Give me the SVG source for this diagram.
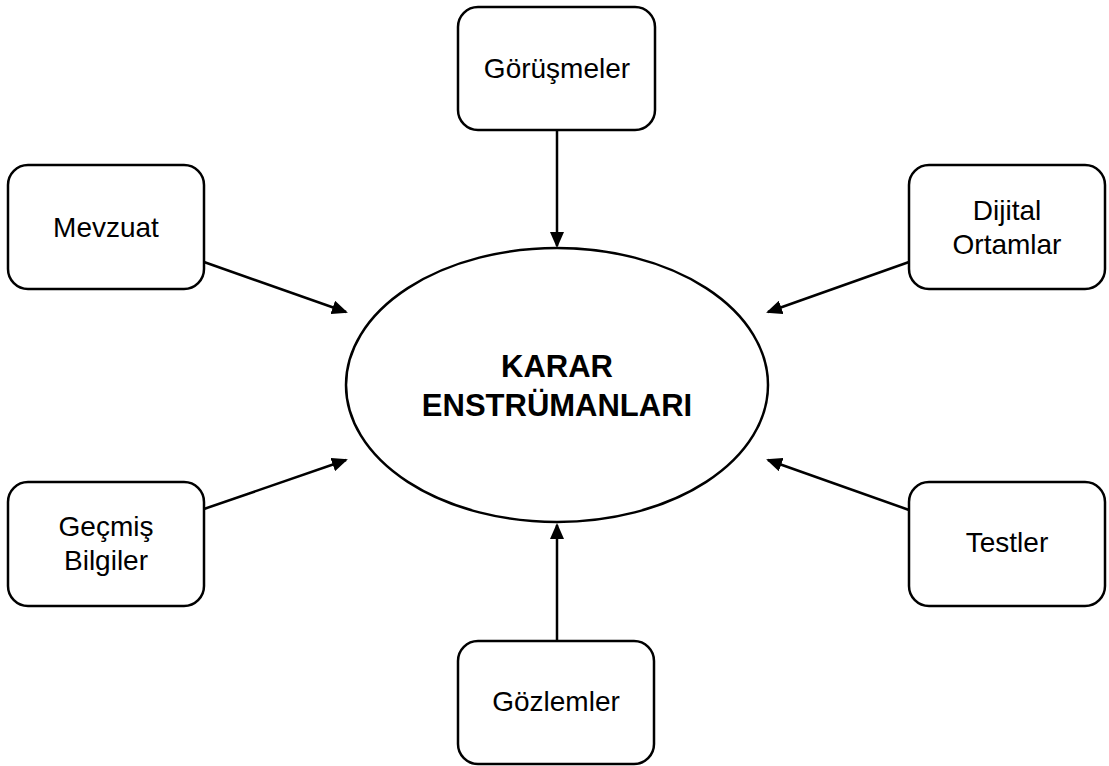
<svg xmlns="http://www.w3.org/2000/svg" width="1109" height="766" viewBox="0 0 1109 766">
<style>
.box{fill:#fff;stroke:#000;stroke-width:2.5}
.lbl{font-family:"Liberation Sans",Arial,sans-serif;font-size:28px;fill:#000;text-anchor:middle}
.title{font-family:"Liberation Sans",Arial,sans-serif;font-size:31px;font-weight:bold;fill:#000;text-anchor:middle}
.conn{stroke:#000;stroke-width:2.5;fill:none;marker-end:url(#arr)}
</style>
<defs>
<marker id="arr" markerUnits="userSpaceOnUse" markerWidth="16" markerHeight="14" refX="14" refY="7" orient="auto">
<path d="M0,0 L16,7 L0,14 z" fill="#000"/>
</marker>
</defs>
<rect width="1109" height="766" fill="#fff"/>
<g id="connectors">
<line class="conn" x1="557" y1="130" x2="557" y2="246"/>
<line class="conn" x1="204" y1="262" x2="346" y2="312"/>
<line class="conn" x1="909" y1="262" x2="768" y2="312"/>
<line class="conn" x1="204" y1="509" x2="346" y2="460"/>
<line class="conn" x1="909" y1="510" x2="768" y2="460"/>
<line class="conn" x1="557" y1="641" x2="557" y2="525"/>
</g>
<g id="center">
<ellipse class="box" cx="557" cy="385" rx="211" ry="137"/>
<text class="title" x="557" y="377">KARAR</text>
<text class="title" x="557" y="416">ENSTRÜMANLARI</text>
</g>
<g id="gorusmeler">
<rect class="box" x="458" y="7" width="197" height="123" rx="20"/>
<text class="lbl" x="557" y="78">Görüşmeler</text>
</g>
<g id="mevzuat">
<rect class="box" x="8" y="165" width="196" height="124" rx="20"/>
<text class="lbl" x="106" y="237">Mevzuat</text>
</g>
<g id="dijital">
<rect class="box" x="909" y="165" width="196" height="124" rx="20"/>
<text class="lbl" x="1007" y="220">Dijital</text>
<text class="lbl" x="1007" y="254">Ortamlar</text>
</g>
<g id="gecmis">
<rect class="box" x="8" y="482" width="196" height="124" rx="20"/>
<text class="lbl" x="106" y="536">Geçmiş</text>
<text class="lbl" x="106" y="570">Bilgiler</text>
</g>
<g id="testler">
<rect class="box" x="909" y="482" width="196" height="124" rx="20"/>
<text class="lbl" x="1007" y="552">Testler</text>
</g>
<g id="gozlemler">
<rect class="box" x="458" y="641" width="196" height="123" rx="20"/>
<text class="lbl" x="556" y="711">Gözlemler</text>
</g>
</svg>
